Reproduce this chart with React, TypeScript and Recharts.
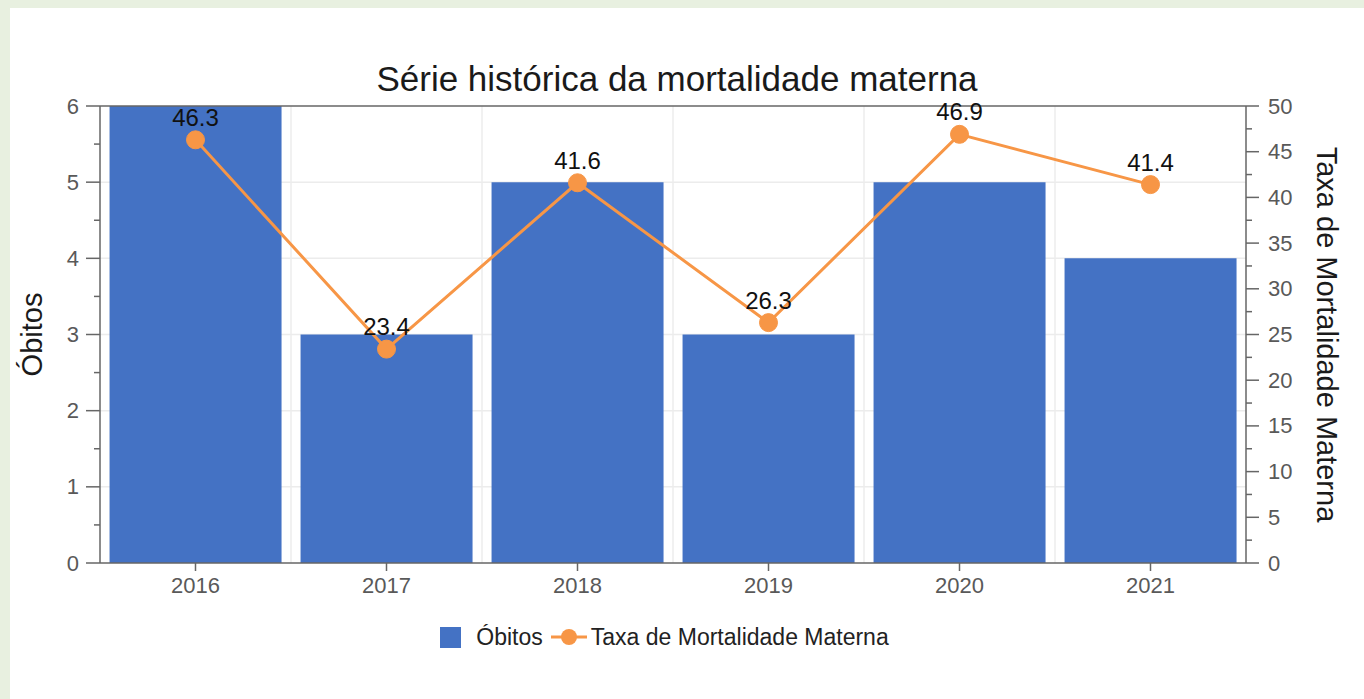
import React from 'react';
import { ComposedChart, Bar, Line, XAxis, YAxis, CartesianGrid, LabelList, Legend, ReferenceLine } from 'recharts';

const years = ['2016', '2017', '2018', '2019', '2020', '2021'];
const obitos = [6, 3, 5, 3, 5, 4];
const taxa = [46.3, 23.4, 41.6, 26.3, 46.9, 41.4];
const leftTicks = [0, 0.5, 1, 1.5, 2, 2.5, 3, 3.5, 4, 4.5, 5, 5.5, 6];
const rightTicks = [0, 2.5, 5, 7.5, 10, 12.5, 15, 17.5, 20, 22.5, 25, 27.5, 30, 32.5, 35, 37.5, 40, 42.5, 45, 47.5, 50];
const gridLevels = [1, 2, 3, 4, 5];
const majorRight = [0, 5, 10, 15, 20, 25, 30, 35, 40, 45, 50];

const TITLE = 'Série histórica da mortalidade materna';
const BAR_NAME = 'Óbitos';
const LINE_NAME = 'Taxa de Mortalidade Materna';

const data = years.map((y, i) => ({ year: y, obitos: obitos[i], taxa: taxa[i] }));

const FONT = '"Liberation Sans", Arial, sans-serif';
const BAR = '#4472C4';
const ORANGE = '#F79646';
const AXIS = '#666666';
const TICK_TXT = '#595959';

const applyScale = (s: any, v: any): number | undefined => {
  if (!s) return undefined;
  if (typeof s === 'function') return s(v);
  if (typeof s.map === 'function') return s.map(v);
  if (typeof s.apply === 'function') return s.apply(v);
  return undefined;
};

const LeftTick = (props: any) => {
  const { x, y, payload } = props;
  const major = Number.isInteger(payload.value);
  return (
    <g>
      <line x1={x - (major ? 14 : 6)} x2={x} y1={y} y2={y} stroke={AXIS} strokeWidth={1.5} />
      {major && (
        <text x={x - 21} y={y} textAnchor="end" dominantBaseline="central" fontSize={22} fill={TICK_TXT} fontFamily={FONT}>
          {payload.value}
        </text>
      )}
    </g>
  );
};

const RightTick = (props: any) => {
  const { x, y, payload } = props;
  const major = majorRight.includes(payload.value);
  return (
    <g>
      <line x1={x} x2={x + (major ? 13 : 6)} y1={y} y2={y} stroke={AXIS} strokeWidth={1.5} />
      {major && (
        <text x={x + 22} y={y} textAnchor="start" dominantBaseline="central" fontSize={22} fill={TICK_TXT} fontFamily={FONT}>
          {payload.value}
        </text>
      )}
    </g>
  );
};

const AxisTitle = (props: any) => {
  const { viewBox, txt, shiftX, rot } = props;
  if (!viewBox) return null;
  const cx = viewBox.x + shiftX;
  const cy = viewBox.y + viewBox.height / 2;
  return (
    <g transform={`rotate(${rot} ${cx} ${cy})`}>
      <text x={cx} y={cy} textAnchor="middle" dominantBaseline="central" fontSize={29} fill="#1a1a1a" fontFamily={FONT}>
        {txt}
      </text>
    </g>
  );
};

const LegendContent = () => (
  <div style={{ display: 'flex', justifyContent: 'center', alignItems: 'center', height: 30, fontFamily: FONT, fontSize: 23, color: '#222', paddingRight: 35 }}>
    <span style={{ display: 'inline-block', width: 21, height: 21, background: BAR }} />
    <span style={{ marginLeft: 15 }}>{BAR_NAME}</span>
    <svg width={40} height={22} style={{ marginLeft: 6 }}>
      <line x1={2} x2={38} y1={11} y2={11} stroke={ORANGE} strokeWidth={3} />
      <circle cx={20} cy={11} r={8} fill={ORANGE} />
    </svg>
    <span style={{ marginLeft: 2 }}>{LINE_NAME}</span>
  </div>
);

export default function App() {
  return (
    <div style={{ position: 'absolute', left: 0, top: 0, width: 1364, height: 699, background: '#e8f0e0', overflow: 'hidden' }}>
      <div style={{ position: 'absolute', left: 10, top: 8, right: 0, bottom: 0, background: '#ffffff' }} />
      <div style={{ position: 'absolute', left: 0, top: 0 }}>
        <ComposedChart width={1364} height={699} data={data} margin={{ top: 106, right: 0, bottom: 86, left: 0 }} barCategoryGap="5%">
          <CartesianGrid
            yAxisId="left"
            stroke="#ececec"
            strokeWidth={1.5}
            verticalCoordinatesGenerator={(p: any) => {
              const off = p?.offset;
              if (!off) return [];
              return years.slice(1).map((_, i) => off.left + (off.width * (i + 1)) / years.length);
            }}
            horizontalCoordinatesGenerator={(p: any) => {
              const s = p?.yAxis?.scale;
              const out = gridLevels.map((v) => applyScale(s, v)).filter((v) => typeof v === 'number' && isFinite(v)) as number[];
              return out;
            }}
          />
          <XAxis
            dataKey="year"
            height={50}
            stroke={AXIS}
            strokeWidth={1.5}
            tickSize={8}
            tickMargin={6}
            tick={{ fontSize: 22, fill: TICK_TXT, fontFamily: FONT }}
            interval={0}
          />
          <YAxis
            yAxisId="left"
            orientation="left"
            width={100}
            domain={[0, 6]}
            ticks={leftTicks}
            interval={0}
            tickSize={0}
            tickMargin={0}
            stroke={AXIS}
            strokeWidth={1.5}
            tick={<LeftTick />}
            label={<AxisTitle txt="Óbitos" shiftX={32} rot={-90} />}
          />
          <YAxis
            yAxisId="right"
            orientation="right"
            width={118}
            domain={[0, 50]}
            ticks={rightTicks}
            interval={0}
            tickSize={0}
            tickMargin={0}
            stroke={AXIS}
            strokeWidth={1.5}
            tick={<RightTick />}
            label={<AxisTitle txt="Taxa de Mortalidade Materna" shiftX={81} rot={90} />}
          />
          <ReferenceLine yAxisId="left" y={6} stroke={AXIS} strokeWidth={1.5} />
          <Bar yAxisId="left" dataKey="obitos" name={BAR_NAME} fill={BAR} isAnimationActive={false} />
          <Line
            yAxisId="right"
            dataKey="taxa"
            name={LINE_NAME}
            stroke={ORANGE}
            strokeWidth={3}
            dot={{ r: 9, fill: ORANGE, stroke: ORANGE, strokeWidth: 1 }}
            activeDot={false}
            isAnimationActive={false}
          >
            <LabelList dataKey="taxa" position="top" offset={14} fontSize={24} fill="#111" fontFamily={FONT} />
          </Line>
          <Legend
            layout="horizontal"
            verticalAlign="middle"
            align="center"
            wrapperStyle={{ top: 622, left: 0, width: 1364 }}
            content={<LegendContent />}
          />
        </ComposedChart>
      </div>
      <div style={{ position: 'absolute', left: 0, width: 1354, top: 61, textAlign: 'center', fontFamily: FONT, fontSize: 35, lineHeight: '35px', color: '#1a1a1a' }}>
        {TITLE}
      </div>
    </div>
  );
}
